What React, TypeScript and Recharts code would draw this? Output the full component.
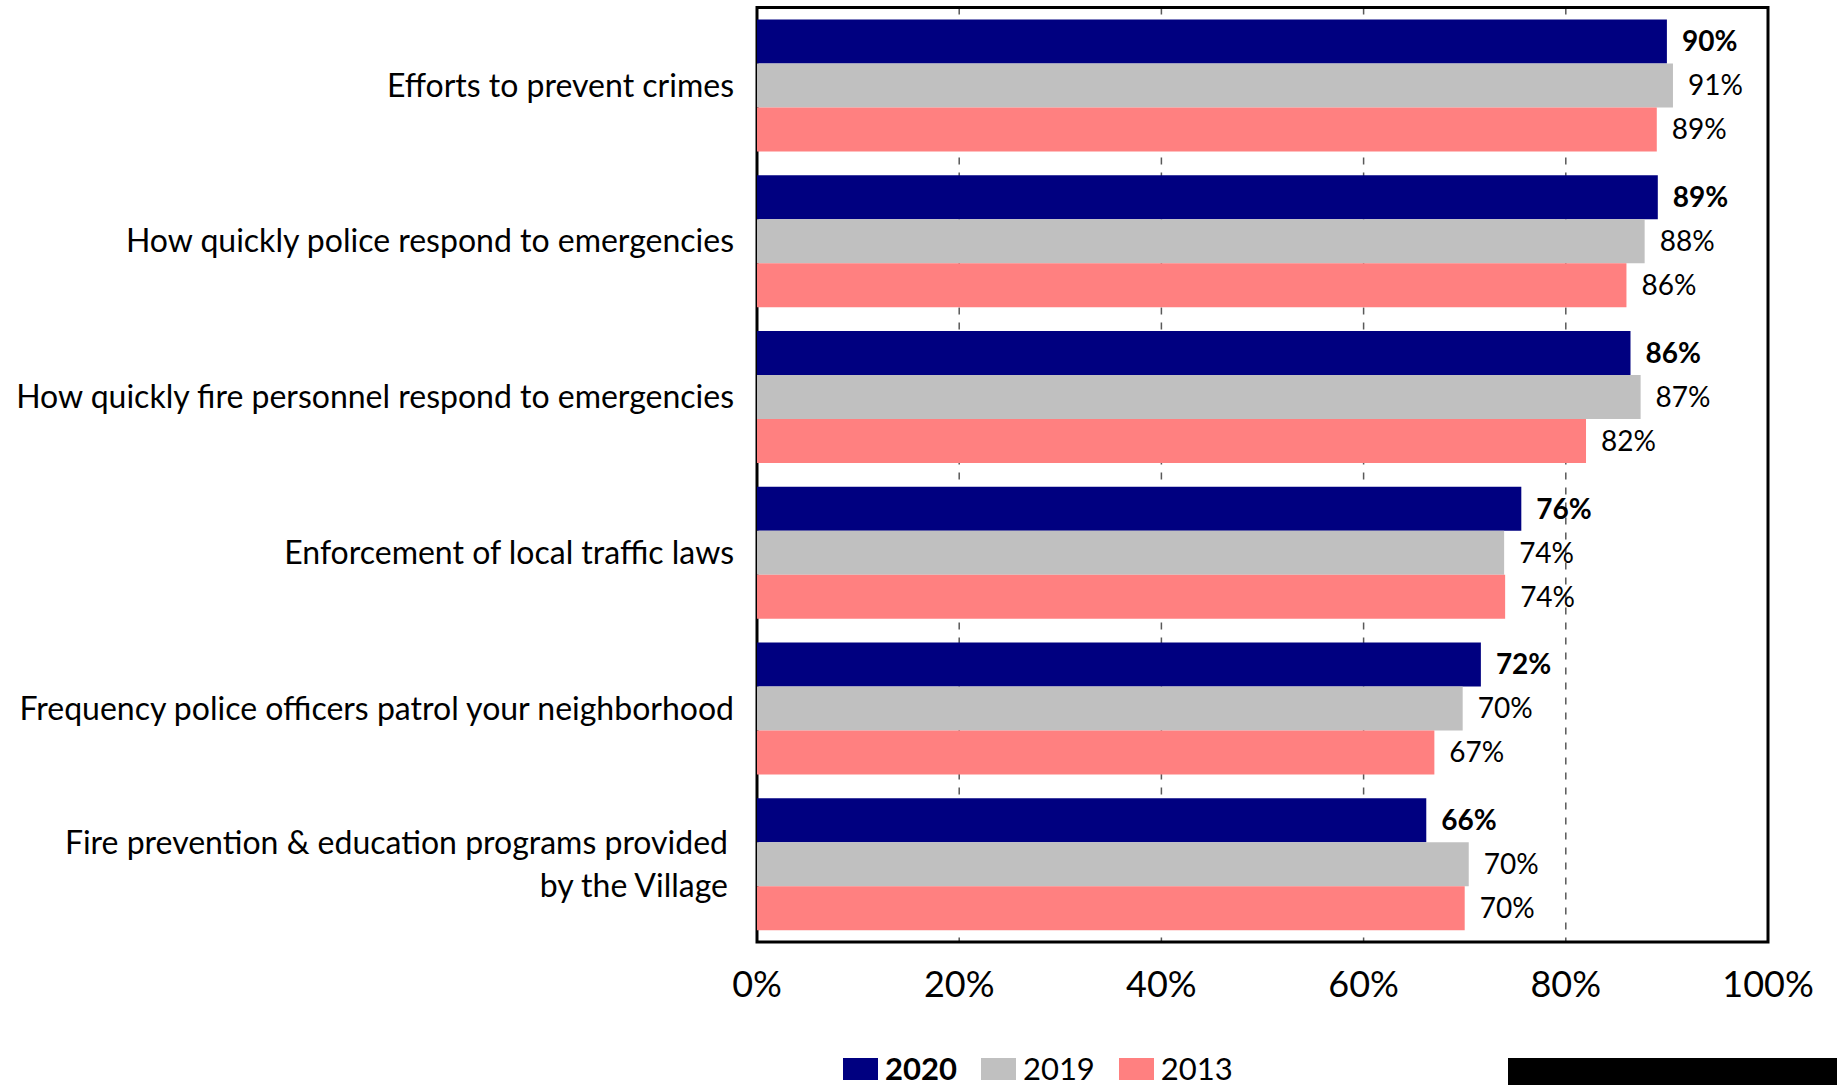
import { BarChart, Bar, XAxis, YAxis, CartesianGrid, LabelList, Legend, ReferenceArea } from 'recharts';

const FONT = "Lato, 'Open Sans', sans-serif";

const categories = [
  'Efforts to prevent crimes',
  'How quickly police respond to emergencies',
  'How quickly fire personnel respond to emergencies',
  'Enforcement of local traffic laws',
  'Frequency police officers patrol your neighborhood',
  'Fire prevention & education programs provided\nby the Village',
];
const values2020 = [90.0, 89.1, 86.4, 75.6, 71.6, 66.2];
const values2019 = [90.6, 87.8, 87.4, 73.9, 69.8, 70.4];
const values2013 = [89.0, 86.0, 82.0, 74.0, 67.0, 70.0];
const seriesNames = ['2020', '2019', '2013'];
const seriesColors = ['#000080', '#C0C0C0', '#FF8080'];
const xTicks = [0, 20, 40, 60, 80, 100];

const data = categories.map((name, i) => ({
  name,
  v2020: values2020[i],
  v2019: values2019[i],
  v2013: values2013[i],
}));

const CategoryTick = (props: any) => {
  const { x, y, payload } = props;
  const lines = String(payload.value).split('\n');
  const lh = 43.5;
  const shift = lines.length > 1 ? 6 : 0;
  return (
    <text x={x} y={y} textAnchor="end" fontFamily={FONT} fontSize={32} fill="#000">
      {lines.map((l, i) => (
        <tspan key={i} x={x - shift} y={y + (i - (lines.length - 1) / 2) * lh} dy="0.35em">
          {l}
        </tspan>
      ))}
    </text>
  );
};

const makeLabel = (bold: boolean) => (props: any) => {
  const { x, y, width, height, value } = props;
  return (
    <text
      x={x + width + 15}
      y={y + height / 2}
      dy="0.35em"
      fontFamily={FONT}
      fontSize={28}
      fontWeight={bold ? 700 : 400}
      fill="#000"
    >
      {Math.round(value)}%
    </text>
  );
};

const renderLegend = () => (
  <div style={{ display: 'flex', alignItems: 'center', height: 35, fontFamily: FONT, fontSize: 31, color: '#000' }}>
    {seriesNames.map((n, i) => (
      <div key={n} style={{ display: 'flex', alignItems: 'center', marginRight: 24 }}>
        <div style={{ width: 35, height: 22, background: seriesColors[i], marginRight: 7 }} />
        <span style={{ fontWeight: i === 0 ? 700 : 400, lineHeight: '35px' }}>{n}</span>
      </div>
    ))}
  </div>
);

export default function App() {
  return (
    <div style={{ position: 'absolute', left: 0, top: 0, width: 1837, height: 1085, overflow: 'hidden', background: '#fff' }}>
      <BarChart
        width={1837}
        height={1085}
        data={data}
        layout="vertical"
        margin={{ top: 7.5, right: 69, bottom: 48, left: 0 }}
        barCategoryGap={12}
        barGap={0}
      >
        <CartesianGrid horizontal={false} stroke="#595959" strokeWidth={1.5} strokeDasharray="7 8" />
        <XAxis
          type="number"
          domain={[0, 100]}
          ticks={xTicks}
          tickFormatter={(v: number) => `${v}%`}
          axisLine={false}
          tickLine={false}
          tickSize={0}
          tickMargin={29}
          height={60}
          interval={0}
          tick={{ fontFamily: FONT, fontSize: 36, fill: '#000' }}
        />
        <YAxis
          type="category"
          dataKey="name"
          width={757}
          axisLine={false}
          tickLine={false}
          tickSize={0}
          tickMargin={23}
          interval={0}
          tick={<CategoryTick />}
        />
        <Bar dataKey="v2020" name="2020" fill={seriesColors[0]} isAnimationActive={false}>
          <LabelList dataKey="v2020" content={makeLabel(true)} />
        </Bar>
        <Bar dataKey="v2019" name="2019" fill={seriesColors[1]} isAnimationActive={false}>
          <LabelList dataKey="v2019" content={makeLabel(false)} />
        </Bar>
        <Bar dataKey="v2013" name="2013" fill={seriesColors[2]} isAnimationActive={false}>
          <LabelList dataKey="v2013" content={makeLabel(false)} />
        </Bar>
        <ReferenceArea x1={0} x2={100} fill="none" stroke="#000" strokeWidth={3} ifOverflow="visible" />
        <Legend
          verticalAlign="bottom"
          content={renderLegend}
          wrapperStyle={{ top: 1051, left: 843, bottom: 'auto', width: 'auto' }}
        />
      </BarChart>
      <div style={{ position: 'absolute', left: 1508, top: 1058, width: 329, height: 27, background: '#000' }} />
    </div>
  );
}
